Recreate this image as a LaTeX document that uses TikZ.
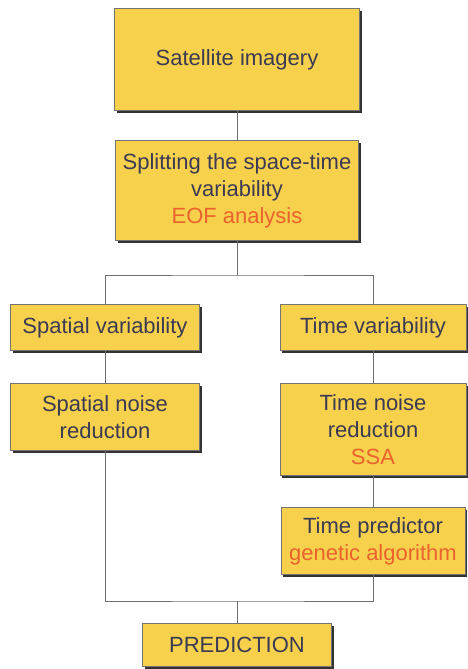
\documentclass[tikz,border=0pt]{standalone}
\usepackage{fontspec}
\setmainfont{Liberation Sans}
\usetikzlibrary{shadows}
\definecolor{boxfill}{RGB}{247,208,76}
\definecolor{txt}{RGB}{58,58,84}
\definecolor{hl}{RGB}{234,98,46}
\definecolor{conn}{RGB}{110,110,110}
\begin{document}
\begin{tikzpicture}[x=1pt,y=-1pt,
  box/.style={draw=black!55, line width=0.6pt, fill=boxfill, text=txt,
    inner sep=0pt, align=center, anchor=center,
    font=\fontsize{22}{27}\selectfont,
    drop shadow={shadow xshift=2.2pt, shadow yshift=-2.2pt, fill=black!80, opacity=1}},
  conn/.style={draw=conn, line width=0.8pt}]
\useasboundingbox[fill=white] (0,0) rectangle (468,669);
\node[box, minimum width=245pt, minimum height=102pt] (sat) at (237,59.5) {Satellite imagery};
\node[box, minimum width=243pt, minimum height=100pt] (split) at (237,190.5)
  {Splitting the space-time\\variability\\\textcolor{hl}{EOF analysis}};
\node[box, minimum width=189pt, minimum height=46pt] (spv) at (105,327.5) {Spatial variability};
\node[box, minimum width=186pt, minimum height=46pt] (tv) at (373,327.5) {Time variability};
\node[box, minimum width=189pt, minimum height=67pt] (snr) at (105,417) {Spatial noise\\reduction};
\node[box, minimum width=186pt, minimum height=92pt] (tnr) at (373,429.5)
  {Time noise\\reduction\\\textcolor{hl}{SSA}};
\node[box, minimum width=184pt, minimum height=67pt] (tp) at (373,541)
  {Time predictor\\\textcolor{hl}{genetic algorithm}};
\node[box, minimum width=189pt, minimum height=43pt] (pred) at (237,645) {PREDICTION};
\coordinate (j1) at (237,275);
\coordinate (j2) at (237,601);
\draw[conn] (sat.south) -- (split.north);
\draw[conn] (split.south) -- (j1);
\draw[conn] (spv.north) |- (j1) -| (tv.north);
\draw[conn] (spv.south) -- (snr.north);
\draw[conn] (tv.south) -- (tnr.north);
\draw[conn] (tnr.south) -- (tp.north);
\draw[conn] (snr.south) |- (j2) -| (tp.south);
\draw[conn] (j2) -- (pred.north);
\end{tikzpicture}
\end{document}
